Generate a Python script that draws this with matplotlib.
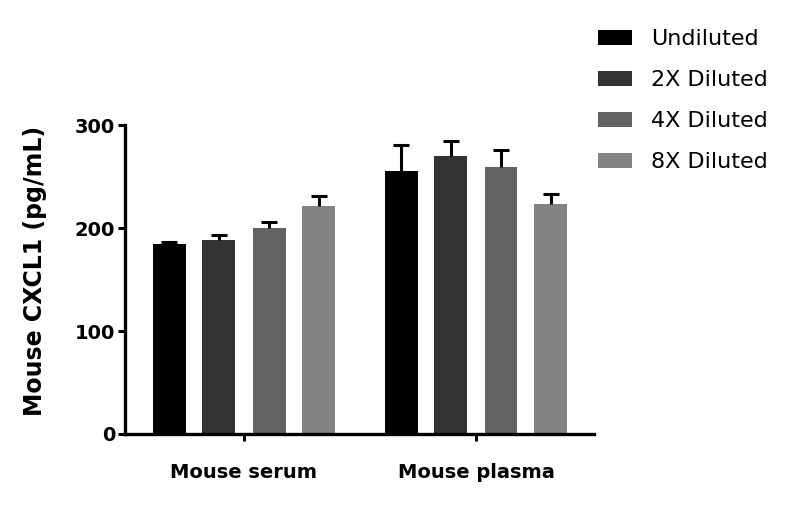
import numpy as np
import matplotlib
matplotlib.use('Agg')
import matplotlib.pyplot as plt

groups = ['Mouse serum', 'Mouse plasma']
series = ['Undiluted', '2X Diluted', '4X Diluted', '8X Diluted']
colors = ['#000000', '#333333', '#636363', '#838383']

# mean values (pg/mL) per series, one entry per group
means = [[184.5, 256.0],
         [188.5, 270.0],
         [200.0, 259.0],
         [222.0, 223.0]]
# upper error (SD)
errs = [[2.0, 25.0],
        [5.0, 14.5],
        [6.0, 16.5],
        [9.0, 10.0]]

fig = plt.figure(figsize=(7.91, 5.07), dpi=100)
ax = fig.add_axes([0.158, 0.144, 0.593, 0.609])

x = np.arange(len(groups))
offsets = [-0.323, -0.108, 0.108, 0.323]
width = 0.142

for i, name in enumerate(series):
    ax.bar(x + offsets[i], means[i], width, color=colors[i], label=name, zorder=2)
    eb = ax.errorbar(x + offsets[i], means[i], yerr=[np.zeros(len(groups)), errs[i]],
                     fmt='none', ecolor='black', elinewidth=2.2, capsize=6,
                     capthick=2.2, zorder=3, clip_on=False)
    # only the upper cap
    eb[1][0].set_visible(False)

ax.set_xlim(-0.513, 1.509)
ax.set_ylim(0, 300)
ax.set_yticks([0, 100, 200, 300])
ax.set_xticks(x)
ax.set_xticklabels(groups, fontsize=14, fontweight='bold')
ax.tick_params(axis='y', labelsize=14, width=2.2, length=5, pad=2)
ax.tick_params(axis='x', width=2.2, length=5, pad=16)
for lab in ax.get_yticklabels():
    lab.set_fontweight('bold')

for s in ['top', 'right']:
    ax.spines[s].set_visible(False)
for s in ['left', 'bottom']:
    ax.spines[s].set_linewidth(2.4)

ax.set_ylabel('Mouse CXCL1 (pg/mL)', fontsize=17, fontweight='bold')
ax.yaxis.set_label_coords(-0.166, 0.527)

ax.legend(loc='upper left', bbox_to_anchor=(0.756, 0.942), bbox_transform=fig.transFigure,
          frameon=False, fontsize=16, handlelength=1.53, handleheight=0.68,
          handletextpad=0.86, labelspacing=0.94, borderpad=0, borderaxespad=0)

fig.savefig('out.png', dpi=100)
